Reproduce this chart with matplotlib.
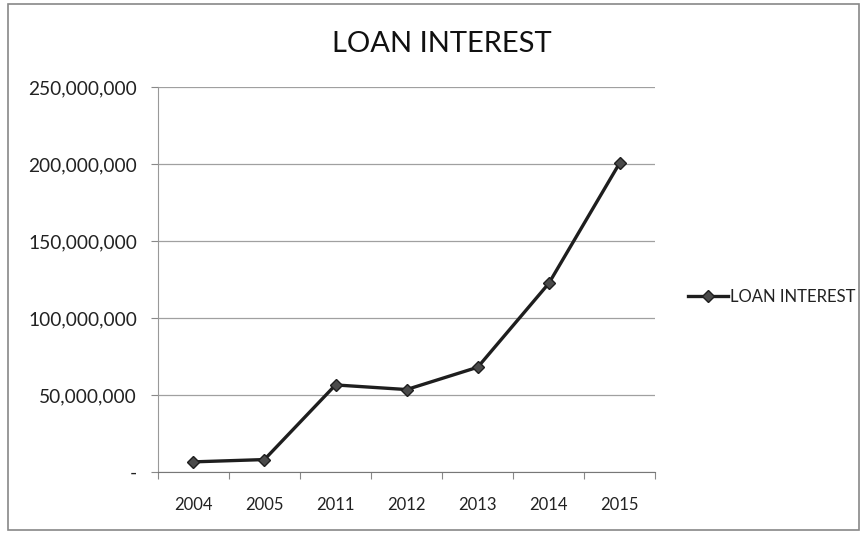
import matplotlib.pyplot as plt
from matplotlib.patches import Rectangle
from matplotlib.ticker import FuncFormatter

years = ['2004', '2005', '2011', '2012', '2013', '2014', '2015']
loan_interest = [6500000, 8000000, 56500000, 53500000, 68000000, 122500000, 201000000]

plt.rcParams['font.family'] = ['Lato', 'DejaVu Sans']

fig = plt.figure(figsize=(8.67, 5.35), dpi=100)
ax = fig.add_axes([0.182, 0.118, 0.574, 0.719])

x = range(len(years))
ax.plot(x, loan_interest, color='#1e1e1e', lw=2.4, marker='D', ms=6,
        mfc='#4a4a4a', mec='#1e1e1e', label='LOAN INTEREST')

ax.set_ylim(0, 250000000)
ax.set_yticks(range(0, 250000001, 50000000))
ax.yaxis.set_major_formatter(FuncFormatter(lambda v, p: '-' if v == 0 else f'{int(v):,}'))
ax.grid(axis='y', color='#a0a0a0', lw=0.9)

# category axis: ticks between categories, labels centered
ax.set_xlim(-0.5, len(years) - 0.5)
ax.set_xticks([i - 0.5 for i in range(len(years) + 1)])
ax.set_xticklabels([])
ax.set_xticks(list(x), minor=True)
ax.set_xticklabels(years, minor=True)
ax.tick_params(axis='x', which='major', length=5, color='#888888')
ax.tick_params(axis='x', which='minor', length=0, pad=18, labelsize=12, labelcolor='#222222')
ax.tick_params(axis='y', length=5, color='#888888', labelsize=13.8, labelcolor='#222222', pad=10)

for side in ['top', 'right']:
    ax.spines[side].set_visible(False)
ax.spines['left'].set_color('#999999')
ax.spines['bottom'].set_color('#777777')

fig.text(0.51, 0.917, 'LOAN INTEREST', ha='center', va='center', fontsize=21, color='#111111')

ax.legend(loc='center left', bbox_to_anchor=(1.035, 0.455), frameon=False,
          fontsize=12, handlelength=2.4, handletextpad=0.1, labelcolor='#222222')

fig.patches.append(Rectangle((0.009, 0.01), 0.982, 0.983, transform=fig.transFigure,
                             fill=False, ec='#888888', lw=1.2))

fig.savefig('out.png', dpi=100)
